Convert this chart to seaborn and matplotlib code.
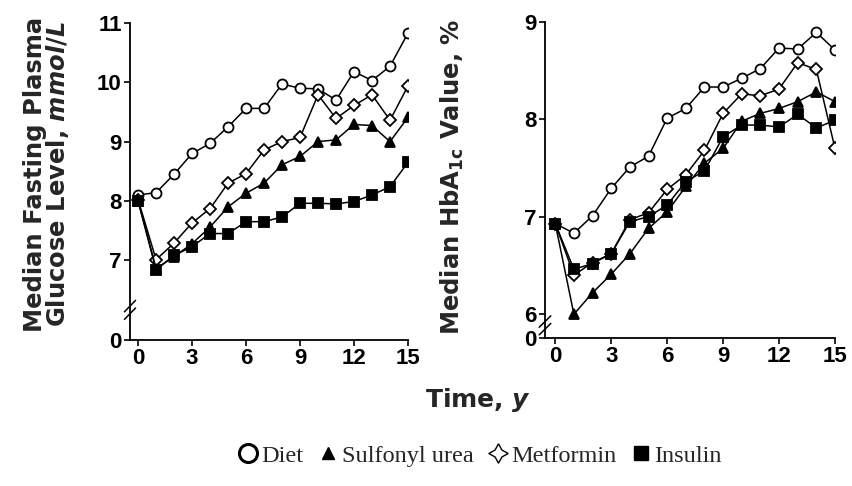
import matplotlib
matplotlib.use("Agg")
import matplotlib.pyplot as plt
from matplotlib.lines import Line2D
import seaborn as sns
import pandas as pd

years = list(range(16))
treatments = ["Diet", "Metformin", "Sulfonyl urea", "Insulin"]

fpg_diet = [8.10, 8.14, 8.45, 8.80, 8.97, 9.25, 9.56, 9.56, 9.97, 9.90, 9.89, 9.70, 10.18, 10.03, 10.27, 10.83]
fpg_metformin = [8.02, 7.01, 7.29, 7.63, 7.87, 8.30, 8.46, 8.86, 9.00, 9.07, 9.79, 9.39, 9.61, 9.79, 9.36, 9.94]
fpg_sulfonyl = [8.00, 6.86, 7.06, 7.28, 7.56, 7.90, 8.13, 8.30, 8.61, 8.75, 9.00, 9.03, 9.29, 9.27, 9.00, 9.41]
fpg_insulin = [8.00, 6.84, 7.08, 7.23, 7.45, 7.45, 7.65, 7.65, 7.73, 7.96, 7.96, 7.95, 7.99, 8.10, 8.24, 8.65]

hba_diet = [6.93, 6.83, 7.01, 7.29, 7.51, 7.62, 8.01, 8.11, 8.33, 8.33, 8.42, 8.52, 8.73, 8.72, 8.89, 8.71]
hba_metformin = [6.93, 6.40, 6.53, 6.62, 6.97, 7.04, 7.28, 7.43, 7.68, 8.06, 8.26, 8.24, 8.31, 8.58, 8.51, 7.70]
hba_sulfonyl = [6.93, 6.00, 6.22, 6.41, 6.62, 6.88, 7.05, 7.31, 7.55, 7.70, 7.98, 8.06, 8.11, 8.18, 8.28, 8.18]
hba_insulin = [6.93, 6.46, 6.52, 6.62, 6.95, 7.00, 7.12, 7.36, 7.47, 7.82, 7.94, 7.94, 7.92, 8.05, 7.91, 7.99]

x_ticks = [0, 3, 6, 9, 12, 15]
fpg_ticks = [7, 8, 9, 10, 11]
hba_ticks = [6, 7, 8, 9]

def long_df(series):
    rows = []
    for name, vals in zip(treatments, series):
        for yr, v in zip(years, vals):
            rows.append({"Time": yr, "Value": v, "Treatment": name})
    return pd.DataFrame(rows)

df_fpg = long_df([fpg_diet, fpg_metformin, fpg_sulfonyl, fpg_insulin])
df_hba = long_df([hba_diet, hba_metformin, hba_sulfonyl, hba_insulin])

sns.set_theme(style="ticks")
plt.rcParams["font.family"] = ["Liberation Sans", "DejaVu Sans"]
plt.rcParams["mathtext.fontset"] = "custom"
plt.rcParams["mathtext.rm"] = "DejaVu Sans:bold"
plt.rcParams["mathtext.bf"] = "DejaVu Sans:bold"
plt.rcParams["mathtext.it"] = "DejaVu Sans:italic:bold"

marker_style = {
    "Diet": dict(marker="o", mfc="white", ms=7.2),
    "Metformin": dict(marker="D", mfc="white", ms=6.6),
    "Sulfonyl urea": dict(marker="^", mfc="black", ms=7.8),
    "Insulin": dict(marker="s", mfc="black", ms=6.6),
}

fig = plt.figure(figsize=(8.53, 4.86), dpi=100)
W, H = 853, 486
ax1 = fig.add_axes([130 / W, 1 - 340 / H, (408 - 130) / W, (340 - 23) / H])
ax2 = fig.add_axes([545 / W, 1 - 338 / H, (835 - 545) / W, (338 - 21.7) / H])

def draw(ax, df):
    for t in treatments:
        sub = df[df["Treatment"] == t]
        sns.lineplot(data=sub, x="Time", y="Value", ax=ax, color="black",
                     lw=1.1, mec="black", mew=1.3, legend=False,
                     **marker_style[t])

draw(ax1, df_fpg)
draw(ax2, df_hba)

tick_font = dict(fontsize=16, fontweight="bold")

def style(ax, ymin, ymax, yt, break_y):
    ax.set_ylim(ymin, ymax)
    ax.set_yticks([ymin] + yt)
    ax.set_yticklabels(["0"] + [str(v) for v in yt], **tick_font)
    ax.set_xticks(x_ticks)
    ax.set_xticklabels([str(v) for v in x_ticks], **tick_font)
    ax.set_xlabel("")
    ax.set_ylabel("")
    for s in ["top", "right"]:
        ax.spines[s].set_visible(False)
    for s in ["left", "bottom"]:
        ax.spines[s].set_linewidth(1.3)
        ax.spines[s].set_color("black")
    ax.tick_params(axis="both", length=4, width=1.2, color="black", pad=2,
                   labelcolor="black")
    # axis break marks
    for dy in (-0.012, 0.012):
        ax.plot([-0.02, 0.02], [break_y + dy - 0.018, break_y + dy + 0.018],
                transform=ax.transAxes, color="black", lw=1.1, clip_on=False)

style(ax1, 5.655, 11, fpg_ticks, 0.095)
ax1.set_xlim(-0.45, 15)
style(ax2, 5.756, 9, hba_ticks, 0.04)
ax2.set_xlim(-0.55, 15)

label_font = dict(fontsize=17.5, fontweight="bold", family=["DejaVu Sans"])
fig.text(47 / W, 1 - 174 / H,
         "Median Fasting Plasma\nGlucose Level, $\\mathit{mmol/L}$",
         rotation=90, ha="center", va="center", linespacing=0.9,
         multialignment="center", **label_font)
fig.text(452 / W, 1 - 177 / H, "Median HbA$_{\\mathrm{1c}}$ Value, %",
         rotation=90, ha="center", va="center", **label_font)
fig.text(478 / W, 1 - 400 / H, "Time, $\\mathit{y}$", ha="center",
         va="center", fontsize=18, fontweight="bold", family=["DejaVu Sans"])

handles = [
    Line2D([], [], ls="none", marker="o", ms=13, mfc="white", mec="black", mew=2.2),
    Line2D([], [], ls="none", marker="^", ms=9, mfc="black", mec="black"),
    Line2D([], [], ls="none", marker=(4, 1, 0), ms=14, mfc="white", mec="black", mew=1.0),
    Line2D([], [], ls="none", marker="s", ms=10, mfc="black", mec="black"),
]
labels = ["Diet", "Sulfonyl urea", "Metformin", "Insulin"]
fig.legend(handles, labels, loc="center", bbox_to_anchor=(480 / W, 1 - 456 / H),
           ncol=4, frameon=False, handlelength=0.8, handletextpad=0.15,
           columnspacing=0.6,
           prop={"family": ["Liberation Serif", "DejaVu Serif"], "size": 17.5})

fig.savefig("out.png", dpi=100)
